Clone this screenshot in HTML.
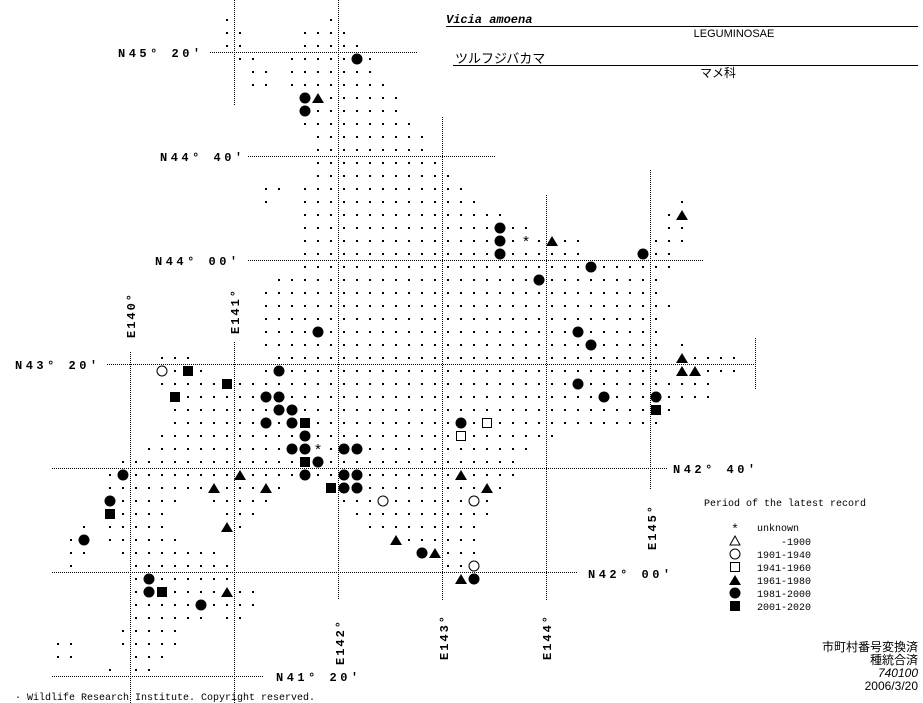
<!DOCTYPE html>
<html><head><meta charset="utf-8"><style>
html,body{margin:0;padding:0;background:#fff;}
svg{display:block;}
.lab{font-family:"Liberation Mono",monospace;font-weight:bold;font-size:12px;letter-spacing:3.5px;fill:#000;}
.leg{font-family:"Liberation Mono",monospace;font-size:10px;fill:#000;}
.jp{font-family:"Liberation Sans","Noto Sans CJK JP",sans-serif;font-size:12px;fill:#000;}
</style></head><body>
<svg id="m" width="923" height="703" viewBox="0 0 923 703" xmlns="http://www.w3.org/2000/svg">
<g stroke="#000" stroke-width="1" stroke-dasharray="1 1" fill="none">
<line x1="210" y1="52.5" x2="417" y2="52.5"/>
<line x1="248" y1="156.5" x2="495" y2="156.5"/>
<line x1="248" y1="260.5" x2="703" y2="260.5"/>
<line x1="107" y1="364.5" x2="755" y2="364.5"/>
<line x1="52" y1="468.5" x2="668" y2="468.5"/>
<line x1="52" y1="572.5" x2="577" y2="572.5"/>
<line x1="52" y1="676.5" x2="263" y2="676.5"/>
<line x1="130.5" y1="352" x2="130.5" y2="703"/>
<line x1="234.5" y1="0" x2="234.5" y2="105"/>
<line x1="234.5" y1="342" x2="234.5" y2="703"/>
<line x1="338.5" y1="0" x2="338.5" y2="600"/>
<line x1="442.5" y1="117" x2="442.5" y2="600"/>
<line x1="546.5" y1="195" x2="546.5" y2="600"/>
<line x1="650.5" y1="170" x2="650.5" y2="490"/>
<line x1="755.5" y1="338" x2="755.5" y2="390"/>
</g>
<g id="dots" fill="#000"></g>
<g id="marks"></g>
<text class="lab" x="118" y="57">N45° 20′</text>
<text class="lab" x="160" y="161">N44° 40′</text>
<text class="lab" x="155" y="265">N44° 00′</text>
<text class="lab" x="15" y="369">N43° 20′</text>
<text class="lab" x="673" y="473">N42° 40′</text>
<text class="lab" x="588" y="578">N42° 00′</text>
<text class="lab" x="276" y="681">N41° 20′</text>
<text class="lab" style="letter-spacing:2px" transform="translate(135,338) rotate(-90)">E140°</text>
<text class="lab" style="letter-spacing:2px" transform="translate(239,334) rotate(-90)">E141°</text>
<text class="lab" style="letter-spacing:2px" transform="translate(344,665) rotate(-90)">E142°</text>
<text class="lab" style="letter-spacing:2px" transform="translate(448,660) rotate(-90)">E143°</text>
<text class="lab" style="letter-spacing:2px" transform="translate(551,660) rotate(-90)">E144°</text>
<text class="lab" style="letter-spacing:2px" transform="translate(656,550) rotate(-90)">E145°</text>
<text x="446" y="23" style="font-family:'Liberation Mono',monospace;font-weight:bold;font-style:italic;font-size:12px">Vicia amoena</text>
<line x1="446" y1="26.5" x2="918" y2="26.5" stroke="#000"/>
<text x="734" y="37" text-anchor="middle" style="font-family:'Liberation Sans',sans-serif;font-size:11px">LEGUMINOSAE</text>
<text x="455" y="63" class="jp" style="font-size:13px">ツルフジバカマ</text>
<line x1="453" y1="65.5" x2="918" y2="65.5" stroke="#000"/>
<text x="700" y="77" class="jp">マメ科</text>
<text class="leg" x="704" y="506">Period of the latest record</text>
<text x="735" y="533" text-anchor="middle" style="font-family:'Liberation Mono',monospace;font-size:13px">*</text>
<polygon points="735,536 730,545 740,545" fill="none" stroke="#000"/>
<circle cx="735" cy="554" r="5" fill="none" stroke="#000"/>
<rect x="730.5" y="562.5" width="9" height="9" fill="none" stroke="#000"/>
<polygon points="735,575 729,585 741,585" fill="#000"/>
<circle cx="735" cy="593" r="5.5" fill="#000"/>
<rect x="730" y="601" width="10" height="10" fill="#000"/>
<text class="leg" x="757" y="531">unknown</text>
<text class="leg" x="811" y="545" text-anchor="end">-1900</text>
<text class="leg" x="757" y="558">1901-1940</text>
<text class="leg" x="757" y="571">1941-1960</text>
<text class="leg" x="757" y="584">1961-1980</text>
<text class="leg" x="757" y="597">1981-2000</text>
<text class="leg" x="757" y="610">2001-2020</text>
<text class="jp" x="918" y="651" text-anchor="end">市町村番号変換済</text>
<text class="jp" x="918" y="664" text-anchor="end">種統合済</text>
<text class="jp" x="918" y="677" text-anchor="end" style="font-style:italic">740100</text>
<text class="jp" x="918" y="690" text-anchor="end">2006/3/20</text>
<text x="15" y="700" style="font-family:'Liberation Mono',monospace;font-size:10px">·  Wildlife Research Institute. Copyright reserved.</text>
</svg>
<script>
var rows={0:"17,25",1:"17-18,23-26",2:"17-18,23-27",3:"18-19,22-28",4:"19-20,22-28",5:"19-20,22-29",6:"23-30",7:"23-30",8:"23-31",9:"24-32",10:"24-32",11:"24-33",12:"24-34",13:"20-21,23-35",14:"20,23-36,52",15:"23-38,51-52",16:"23-40,51-52",17:"23-44,50-52",18:"23-44,49-51",19:"23-51",20:"21-50",21:"20-50",22:"20-51",23:"20-50",24:"20-50",25:"20-50,52",26:"12-14,21-50,52-56",27:"12-15,20-50,52-56",28:"12-54",29:"13-54",30:"13-51",31:"13-50",32:"12-42",33:"11-40",34:"9-39",35:"8-39",36:"8-21,25-38",37:"8-13,16-20,26-37",38:"8-12,17-19,27-37",39:"6,8-12,17-18,28-36",40:"5-6,8-13,30-36",41:"5-6,9-16,32-36",42:"5,10-17,34-36",43:"10-17,35-36",44:"10-19",45:"10-19",46:"10-15,17-18",47:"9-13",48:"4-5,9-13",49:"4-5,10-12",50:"8,10-11"};
var mk=[[27,3,"c"],[23,6,"c"],[24,6,"t"],[23,7,"c"],[38,16,"c"],[38,17,"c"],[40,17,"x"],[42,17,"t"],[38,18,"c"],[49,18,"c"],[52,15,"t"],[45,19,"c"],[41,20,"c"],[24,24,"c"],[44,24,"c"],[45,25,"c"],[52,26,"t"],[21,27,"c"],[52,27,"t"],[53,27,"t"],[44,28,"c"],[20,29,"c"],[21,29,"c"],[46,29,"c"],[50,29,"c"],[21,30,"c"],[22,30,"c"],[50,30,"s"],[12,27,"oc"],[14,27,"s"],[17,28,"s"],[13,29,"s"],[20,31,"c"],[22,31,"c"],[23,31,"s"],[23,32,"c"],[22,33,"c"],[23,33,"c"],[24,33,"x"],[23,34,"s"],[24,34,"c"],[9,35,"c"],[18,35,"t"],[23,35,"c"],[16,36,"t"],[20,36,"t"],[25,36,"s"],[8,37,"c"],[8,38,"s"],[17,39,"t"],[6,40,"c"],[35,31,"c"],[37,31,"os"],[35,32,"os"],[26,33,"c"],[27,33,"c"],[26,35,"c"],[27,35,"c"],[35,35,"t"],[26,36,"c"],[27,36,"c"],[37,36,"t"],[29,37,"oc"],[36,37,"oc"],[30,40,"t"],[32,41,"c"],[33,41,"t"],[36,42,"oc"],[35,43,"t"],[36,43,"c"],[11,43,"c"],[11,44,"c"],[12,44,"s"],[17,44,"t"],[15,45,"c"]];
var set={};mk.forEach(function(m){set[m[0]+","+m[1]]=1;});
var X=function(k){return 6+13*k;},Y=function(r){return 20+13*r;};
var d="";
for(var r in rows){rows[r].split(",").forEach(function(p){var a=p.split("-"),s=+a[0],e=a.length>1?+a[1]:s;for(var k=s;k<=e;k++){if(set[k+","+r])continue;d+='<rect x="'+(X(k)-1)+'" y="'+(Y(+r)-1)+'" width="2" height="2"/>';}});}
document.getElementById("dots").innerHTML=d;
var h="";
mk.forEach(function(m){var x=X(m[0]),y=Y(m[1]),t=m[2];
if(t=="c")h+='<circle cx="'+x+'" cy="'+y+'" r="5.5" fill="#000"/>';
else if(t=="oc")h+='<circle cx="'+x+'" cy="'+y+'" r="5" fill="#fff" stroke="#000"/>';
else if(t=="s")h+='<rect x="'+(x-5)+'" y="'+(y-5)+'" width="10" height="10" fill="#000"/>';
else if(t=="os")h+='<rect x="'+(x-4.5)+'" y="'+(y-4.5)+'" width="9" height="9" fill="#fff" stroke="#000"/>';
else if(t=="t")h+='<polygon points="'+x+','+(y-5)+' '+(x-6)+','+(y+5)+' '+(x+6)+','+(y+5)+'" fill="#000"/>';
else if(t=="x")h+='<text x="'+x+'" y="'+(y+6)+'" text-anchor="middle" style="font-family:Liberation Mono,monospace;font-size:15px">*</text>';});
document.getElementById("marks").innerHTML=h;
</script>
</body></html>
